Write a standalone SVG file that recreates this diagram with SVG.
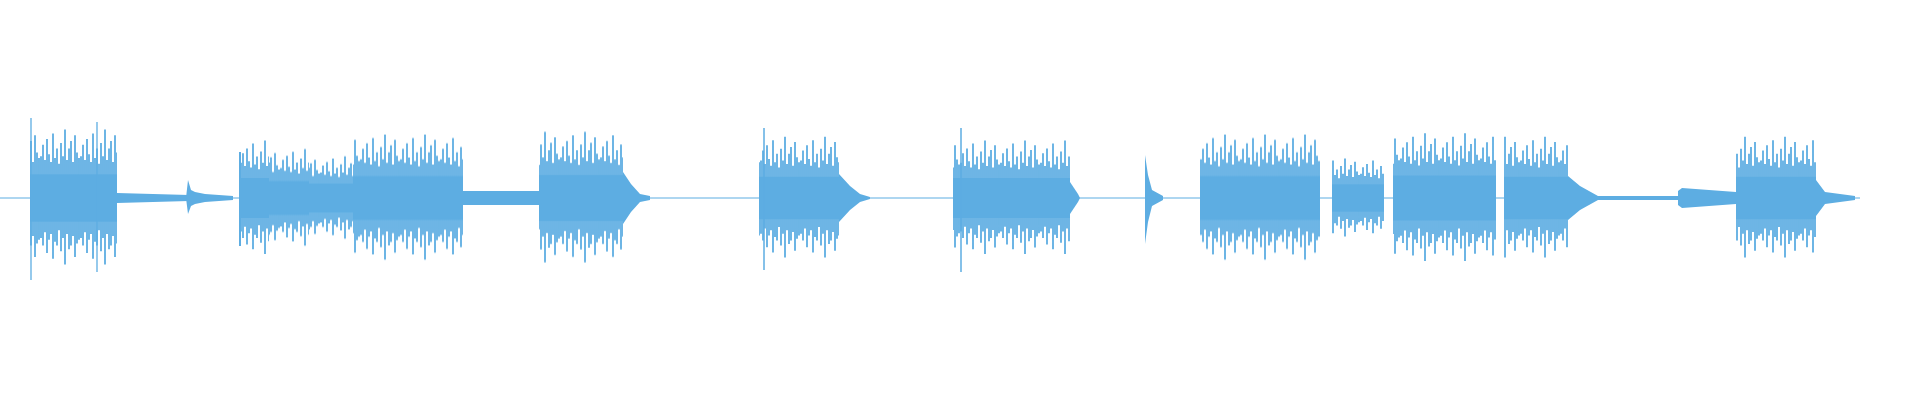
<svg xmlns="http://www.w3.org/2000/svg" width="1920" height="400" viewBox="0 0 1920 400">
<defs>
<pattern id="w" patternUnits="userSpaceOnUse" x="0" y="-80" width="40" height="160">
<rect x="0" y="55" width="40" height="50" fill="#5dade2"/>
<path fill="none" stroke="#5dade2" stroke-width="1.8" d="M1 36V122M3 24V130M5 40V116M7 18V138M9 34V124M11 42V118M13 12V144M15 38V126M17 28V130M19 44V114M21 22V136M23 36V122M25 8V150M27 40V118M29 28V134M31 20V130M33 42V120M35 14V142M37 32V128M39 38V124"/>
</pattern>
</defs>
<rect width="1920" height="400" fill="#fff"/>
<g id="wave">
<line x1="0" y1="198" x2="1860" y2="198" stroke="#5dade2" stroke-width="1"/>
<g transform="translate(0,198) scale(1,0.95)"><rect x="30" y="-80" width="87" height="160" fill="url(#w)"/></g>
<line x1="31" y1="118" x2="31" y2="280" stroke="#5dade2" stroke-width="1.3"/>
<line x1="97" y1="122" x2="97" y2="272" stroke="#5dade2" stroke-width="1.3"/>
<path d="M117 193L189 195L189 201L117 203Z" fill="#5dade2"/>
<path d="M186 198L188 180L191 190L195 192L205 194L233 196L233 200L205 202L195 204L191 206L188 214Z" fill="#5dade2"/>
<g transform="translate(0,198) scale(1,0.8)"><rect x="239" y="-80" width="30" height="160" fill="url(#w)"/></g>
<g transform="translate(0,198) scale(1,0.68)"><rect x="269" y="-80" width="40" height="160" fill="url(#w)"/></g>
<g transform="translate(0,198) scale(1,0.58)"><rect x="309" y="-80" width="44" height="160" fill="url(#w)"/></g>
<line x1="240" y1="152" x2="240" y2="246" stroke="#5dade2" stroke-width="2"/>
<g transform="translate(0,198) scale(1,0.88)"><rect x="353" y="-80" width="110" height="160" fill="url(#w)"/></g>
<rect x="463" y="191" width="76" height="14" fill="#5dade2"/>
<g transform="translate(0,198) scale(1,0.92)"><rect x="539" y="-80" width="84" height="160" fill="url(#w)"/></g>
<path d="M623 172L631 184L640 194L650 196L650 200L640 202L631 212L623 224Z" fill="#5dade2"/>
<g transform="translate(0,198) scale(1,0.85)"><rect x="759" y="-80" width="80" height="160" fill="url(#w)"/></g>
<path d="M839 174L850 186L860 194L870 197L870 199L860 202L850 210L839 222Z" fill="#5dade2"/>
<line x1="764" y1="128" x2="764" y2="270" stroke="#5dade2" stroke-width="1.5"/>
<g transform="translate(0,198) scale(1,0.8)"><rect x="953" y="-80" width="117" height="160" fill="url(#w)"/></g>
<path d="M1070 182L1078 194L1080 198L1078 202L1070 214Z" fill="#5dade2"/>
<line x1="961" y1="128" x2="961" y2="272" stroke="#5dade2" stroke-width="1.5"/>
<path d="M1145 155L1148 175L1152 190L1163 196L1163 200L1152 206L1148 222L1145 244Z" fill="#5dade2"/>
<g transform="translate(0,198) scale(1,0.88)"><rect x="1200" y="-80" width="120" height="160" fill="url(#w)"/></g>
<g transform="translate(0,198) scale(1,0.55)"><rect x="1332" y="-80" width="52" height="160" fill="url(#w)"/></g>
<g transform="translate(0,198) scale(1,0.9)"><rect x="1393" y="-80" width="103" height="160" fill="url(#w)"/></g>
<g transform="translate(0,198) scale(1,0.85)"><rect x="1504" y="-80" width="64" height="160" fill="url(#w)"/></g>
<path d="M1568 176L1580 186L1598 196L1598 200L1580 210L1568 220Z" fill="#5dade2"/>
<rect x="1598" y="196" width="80" height="4" fill="#5dade2"/>
<path d="M1678 191L1682 188L1736 192L1736 204L1682 208L1678 205Z" fill="#5dade2"/>
<g transform="translate(0,198) scale(1,0.85)"><rect x="1736" y="-80" width="80" height="160" fill="url(#w)"/></g>
<path d="M1816 180L1825 192L1855 196L1855 200L1825 204L1816 216Z" fill="#5dade2"/>
</g>
</svg>
